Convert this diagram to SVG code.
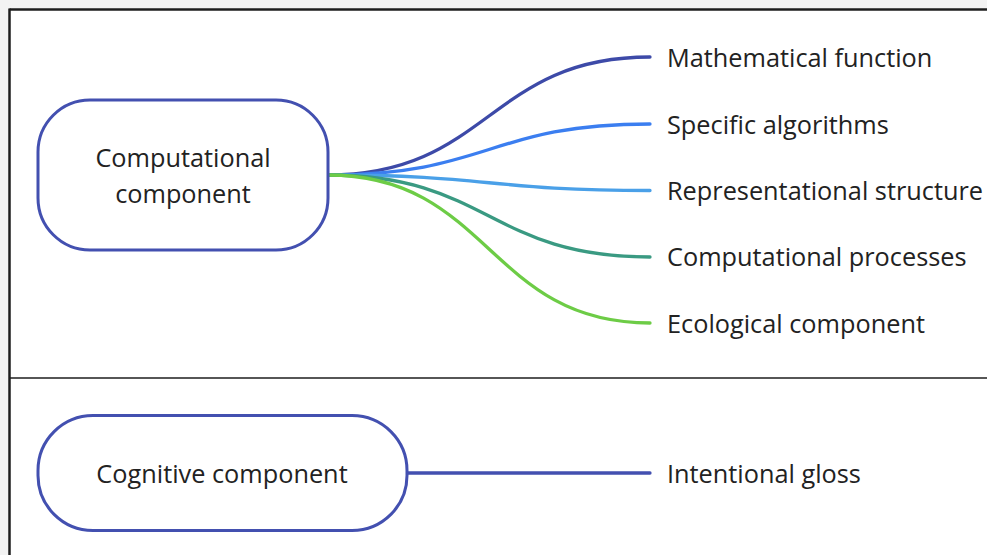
<svg xmlns="http://www.w3.org/2000/svg" width="987" height="555" viewBox="0 0 987 555">
<style>
.node{fill:#fff;stroke:#4350b0;stroke-width:3}
.lbl{font-family:"Open Sans","Noto Sans",sans-serif;font-size:25.3px;fill:#222}
.mid{text-anchor:middle}
.br{fill:none;stroke-width:3.3;stroke-linecap:round}
.frame{stroke:#1e1e1e;fill:none}
</style>
<rect x="0" y="0" width="987" height="555" fill="#f3f3f3"/>
<rect x="10" y="9.5" width="977" height="546" fill="#fff"/>
<g id="frame">
<line class="frame" x1="9.5" y1="9.5" x2="987" y2="9.5" stroke-width="2.5"/>
<line class="frame" x1="9.5" y1="8.5" x2="9.5" y2="555" stroke-width="2.5"/>
<line class="frame" x1="9.5" y1="378" x2="987" y2="378" stroke-width="1.5"/>
</g>
<g id="connectors">
<path class="br" stroke="#3d4aa8" d="M328,175 C489,175 489,57 650,57"/>
<path class="br" stroke="#3b7ef0" d="M328,175 C489,175 489,124 650,124"/>
<path class="br" stroke="#4aa0e8" d="M328,175 C489,175 489,190.5 650,190.5"/>
<path class="br" stroke="#3a9a82" d="M328,175 C489,175 489,257 650,257"/>
<path class="br" stroke="#6dcc46" d="M328,175 C489,175 489,323 650,323"/>
<path class="br" stroke="#4350b0" d="M407,473 L650,473"/>
</g>
<g id="computational">
<rect class="node" x="38" y="100" width="290" height="150" rx="52" ry="52"/>
<text class="lbl mid" x="183" y="167">Computational</text>
<text class="lbl mid" x="183" y="203">component</text>
</g>
<g id="cognitive">
<rect class="node" x="38" y="415.5" width="369" height="115" rx="55" ry="55"/>
<text class="lbl mid" x="222" y="483">Cognitive component</text>
</g>
<g id="mathematical"><text class="lbl" x="667" y="67">Mathematical function</text></g>
<g id="algorithms"><text class="lbl" x="667" y="133.5">Specific algorithms</text></g>
<g id="representational"><text class="lbl" x="667" y="200">Representational structure</text></g>
<g id="processes"><text class="lbl" x="667" y="266">Computational processes</text></g>
<g id="ecological"><text class="lbl" x="667" y="333">Ecological component</text></g>
<g id="intentional"><text class="lbl" x="667" y="483">Intentional gloss</text></g>
</svg>
